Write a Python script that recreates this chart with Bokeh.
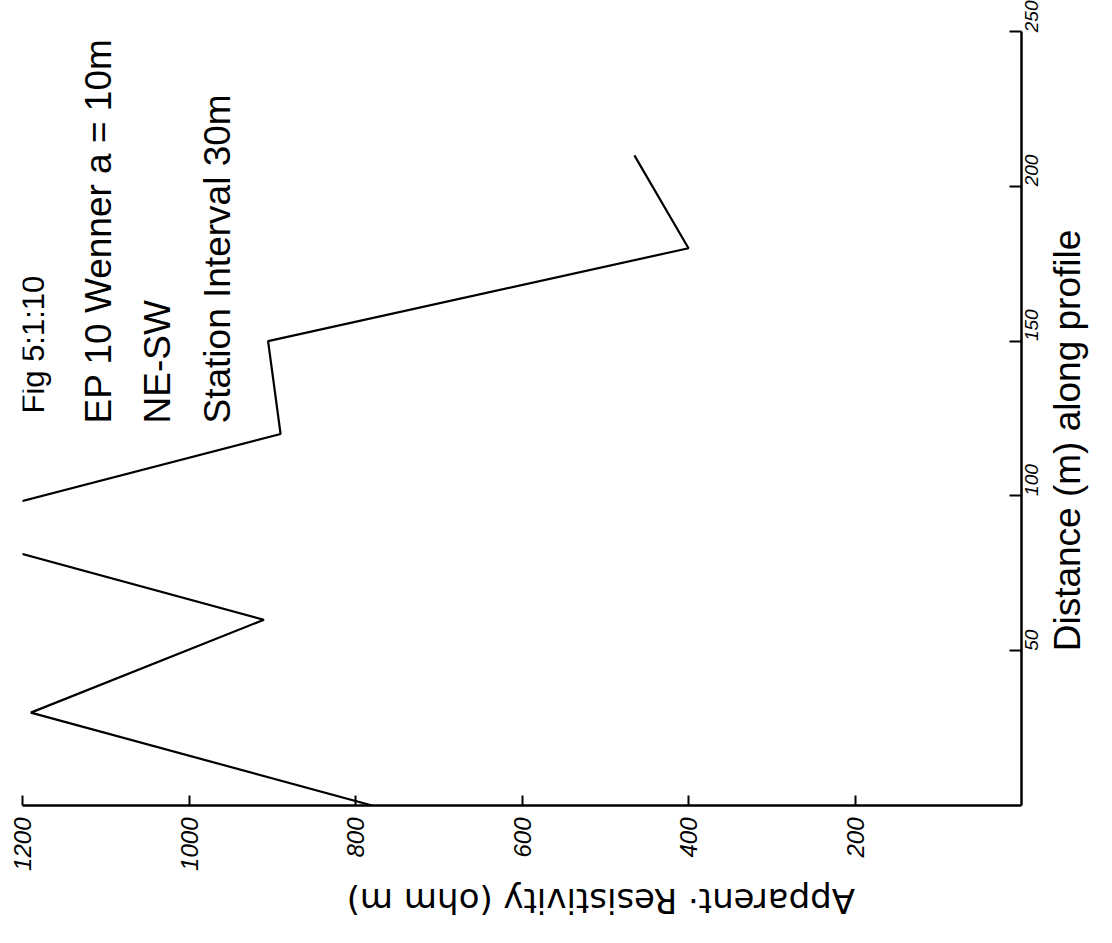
import math
from bokeh.plotting import figure
from bokeh.models import Range1d, FixedTicker, Label
from bokeh.embed import file_html
from bokeh.resources import INLINE

# Data read from the (rotated) scanned profile
distance_m = [0, 30, 60, 90, 120, 150, 180, 210]
resistivity_ohm_m = [780, 1190, 910, 1320, 890, 905, 400, 465]

resistivity_ticks = [200, 400, 600, 800, 1000, 1200]
distance_ticks = [50, 100, 150, 200, 250]

note_lines = ["Fig 5:1:10", "EP 10 Wenner  a = 10m", "NE-SW", "Station Interval  30m"]
distance_title = "Distance (m) along profile"
resistivity_title = "Apparent\u00b7 Resistivity (ohm m)"

FONT = "Liberation Sans"
NBSP = "\u00a0"

p = figure(width=1112, height=943,
           x_range=Range1d(1200, 0), y_range=Range1d(0, 250),
           x_axis_location="below", y_axis_location="right",
           output_backend="svg", toolbar_location=None,
           min_border_left=22, min_border_right=91,
           min_border_top=31, min_border_bottom=138)
p.grid.visible = False
p.outline_line_color = None
p.background_fill_color = "white"
p.border_fill_color = "white"

# profile line: resistivity on the horizontal, distance on the vertical
p.line(resistivity_ohm_m, distance_m, line_color="black", line_width=2.2)

xa = p.xaxis[0]
xa.ticker = FixedTicker(ticks=resistivity_ticks)
xa.minor_tick_line_color = None
xa.major_tick_in = 10
xa.major_tick_out = 0
xa.axis_line_width = 2.5
xa.major_tick_line_width = 2
xa.major_label_orientation = math.pi / 2
xa.major_label_text_font = FONT
xa.major_label_text_font_style = "italic"
xa.major_label_text_font_size = "24px"
xa.major_label_text_color = "black"
xa.major_label_standoff = 12
xa.axis_label = resistivity_title + NBSP * 30
xa.axis_label_align = "end"
xa.axis_label_orientation = math.pi
xa.axis_label_text_font = "DejaVu Sans"
xa.axis_label_text_font_style = "normal"
xa.axis_label_text_font_size = "34px"
xa.axis_label_text_baseline = "bottom"
xa.axis_label_text_color = "black"
xa.axis_label_standoff = 27

ya = p.yaxis[0]
ya.ticker = FixedTicker(ticks=distance_ticks)
ya.minor_tick_line_color = None
ya.major_tick_in = 12
ya.major_tick_out = 0
ya.axis_line_width = 2.5
ya.major_tick_line_width = 2
ya.major_label_orientation = math.pi / 2
ya.major_label_text_font = FONT
ya.major_label_text_font_style = "italic"
ya.major_label_text_font_size = "19px"
ya.major_label_text_color = "black"
ya.major_label_standoff = 10
ya.axis_label = NBSP * 15 + distance_title
ya.axis_label_align = "start"
ya.axis_label_orientation = math.pi / 2
ya.axis_label_text_font = FONT
ya.axis_label_text_font_style = "normal"
ya.axis_label_text_font_size = "37px"
ya.axis_label_text_baseline = "top"
ya.axis_label_text_color = "black"
ya.axis_label_standoff = 20

# annotation block (rotated, reading bottom to top)
note_x = [1187, 1109, 1038, 966]
note_y = [126.6, 123.4, 123.4, 123.4]
note_size = ["31px", "37px", "37px", "37px"]
for txt, xx, yy, sz in zip(note_lines, note_x, note_y, note_size):
    p.add_layout(Label(x=xx, y=yy, text=txt, angle=math.pi / 2,
                       text_align="left", text_baseline="alphabetic",
                       text_font=FONT, text_font_size=sz, text_color="black"))

open("out.html", "w").write(file_html(p, INLINE))
